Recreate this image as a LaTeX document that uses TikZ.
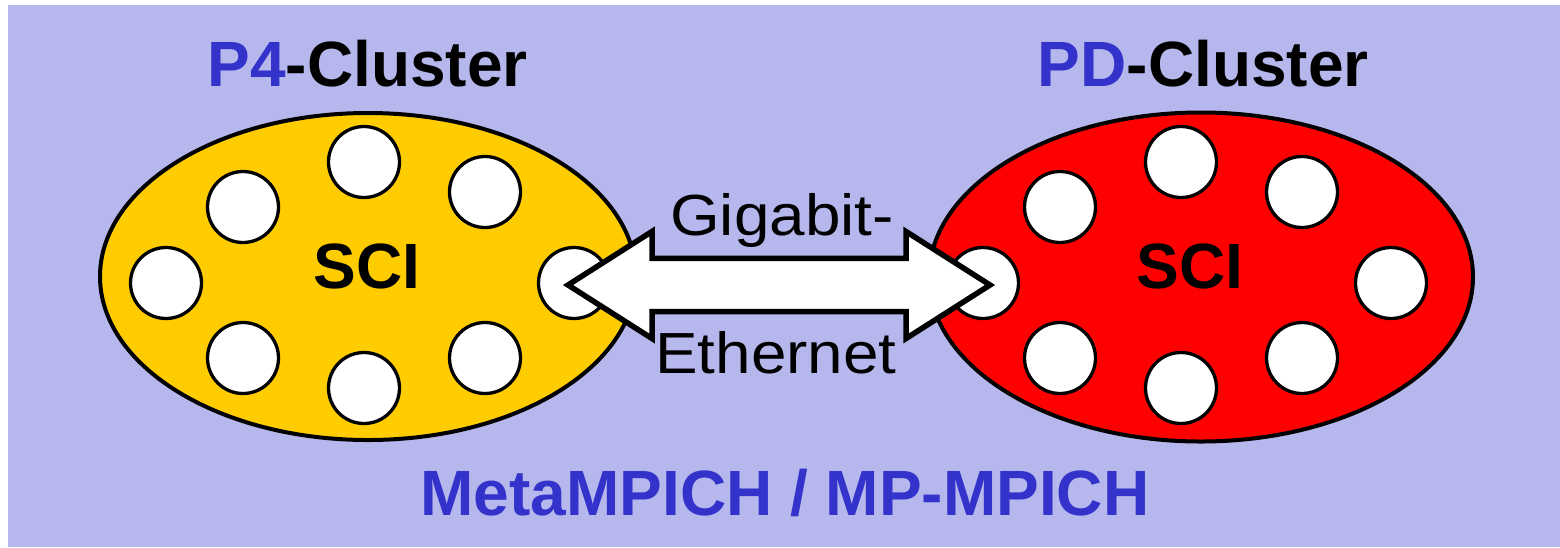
\documentclass[tikz,border=0pt]{standalone}
\usepackage{fontspec}
\setmainfont{Liberation Sans}
\usetikzlibrary{shapes.geometric}
\definecolor{bgl}{RGB}{182,183,236}
\definecolor{tblue}{RGB}{51,51,204}
\definecolor{cyel}{RGB}{255,204,0}
\definecolor{cred}{RGB}{255,0,0}
\begin{document}
\begin{tikzpicture}[x=1pt,y=-1pt,
  pc/.style={circle,draw=black,fill=white,line width=3.3pt,minimum size=71pt,inner sep=0pt},
  clus/.style={ellipse,draw=black,line width=4pt,inner sep=0pt},
  big/.style={font=\fontsize{64}{64}\selectfont\bfseries,anchor=base,inner sep=0pt},
  lab/.style={font=\fontsize{58}{58}\selectfont,anchor=base,inner sep=0pt},
  link/.style={draw=black,fill=white,line width=5.5pt,line join=miter}]
\useasboundingbox (0,0) rectangle (1560,547);
\fill[bgl] (8,5) rectangle (1560,547);
% clusters
\node[clus,fill=cyel,minimum width=536pt,minimum height=327pt] (lc) at (368,276.5) {};
\node[clus,fill=cred,minimum width=544pt,minimum height=329pt] (rc) at (1201,277) {};
% left nodes
\node[pc] (l1) at (364,162) {};
\node[pc] (l2) at (485,192) {};
\node[pc] (l3) at (243,207) {};
\node[pc] (l4) at (166,283) {};
\node[pc] (l5) at (574,283) {};
\node[pc] (l6) at (243,358) {};
\node[pc] (l7) at (485,358) {};
\node[pc] (l8) at (364,388) {};
% right nodes
\node[pc] (r1) at (1181,162) {};
\node[pc] (r2) at (1302,192) {};
\node[pc] (r3) at (1060,207) {};
\node[pc] (r4) at (983,283) {};
\node[pc] (r5) at (1391,283) {};
\node[pc] (r6) at (1060,358) {};
\node[pc] (r7) at (1302,358) {};
\node[pc] (r8) at (1181,388) {};
% labels inside
\node[big] (sciL) at (367,288.3) {SCI};
\node[big] (sciR) at (1190,288.3) {SCI};
% double arrow
\coordinate (tl) at (568,285);
\coordinate (tr) at (990,285);
\path[link] (tl) -- (652,231.5) -- (652,258.3) -- (906,258.3) -- (906,231.5) -- (tr)
  -- (906,338.5) -- (906,311.7) -- (652,311.7) -- (652,338.5) -- cycle;
\node[lab] (gig) at (782,235) {\scalebox{1.1}[1]{Gigabit-}};
\node[lab] (eth) at (776,373.5) {\scalebox{1.1}[1]{Ethernet}};
% titles
\node[big] (tL) at (367.5,86.7) {\textcolor{tblue}{P4}-Cluster};
\node[big] (tR) at (1203.3,86.7) {\textcolor{tblue}{PD}-Cluster};
\node[big,text=tblue] (foot) at (785,515.7) {MetaMPICH / MP-MPICH};
\end{tikzpicture}
\end{document}
